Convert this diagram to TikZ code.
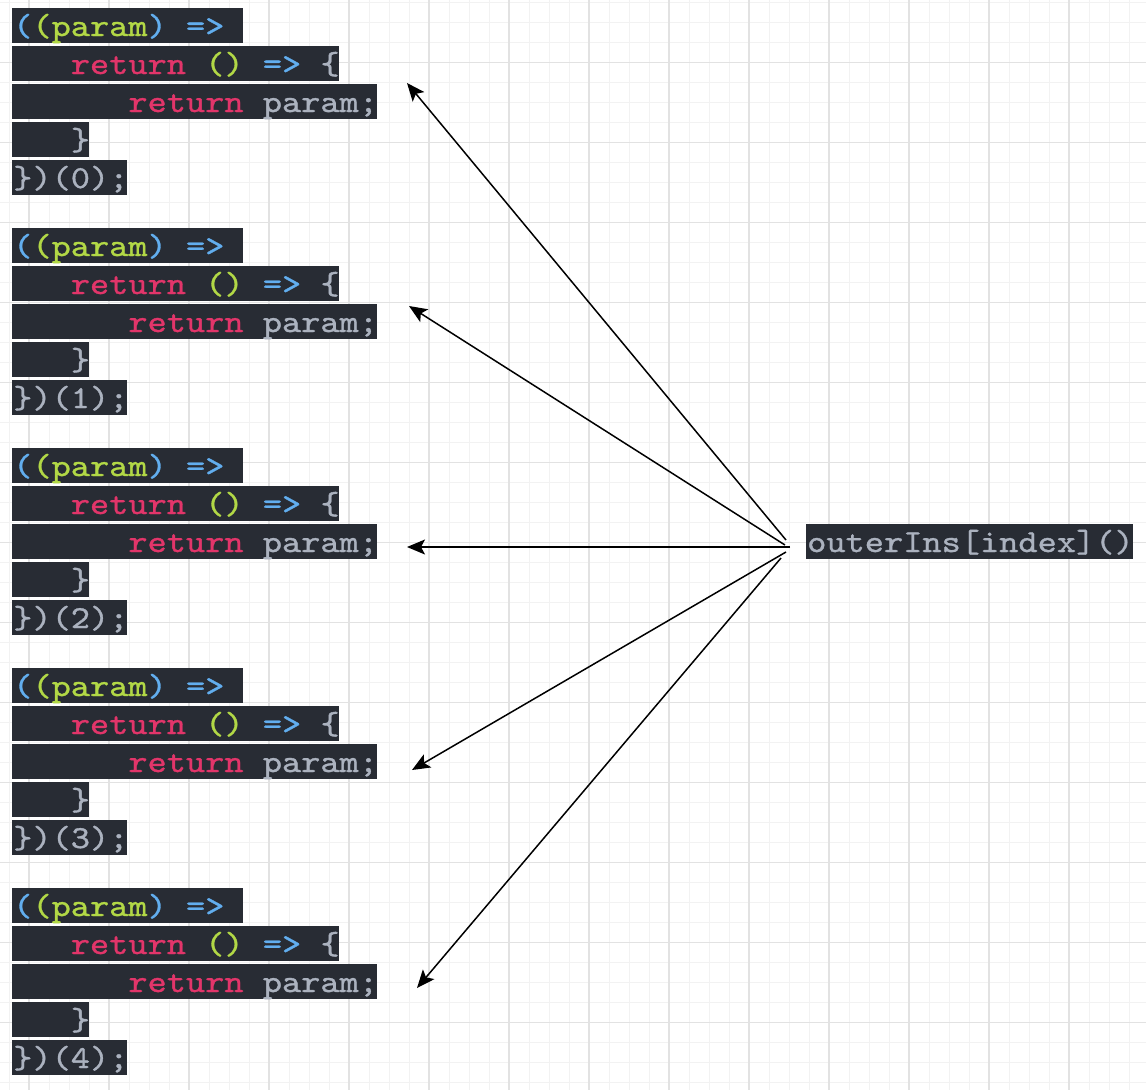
\documentclass[tikz,border=0pt]{standalone}
\usepackage{fontspec}
\usetikzlibrary{arrows.meta}
\newfontfamily\codefont[FakeStretch=1.143,FakeBold=1]{lmmono10-regular.otf}
\definecolor{codebg}{HTML}{282C34}
\definecolor{cblue}{HTML}{62AEEF}
\definecolor{cgreen}{HTML}{B2D846}
\definecolor{cred}{HTML}{E2356A}
\definecolor{cgrey}{HTML}{ABB2BF}
\definecolor{gridminor}{HTML}{F2F2F2}
\definecolor{gridmajor}{HTML}{E2E2E2}
\tikzset{
  codebox/.style={fill=codebg, draw=none, anchor=north west, inner sep=0pt, minimum height=35pt},
  codetxt/.style={anchor=base west, inner sep=0pt, font=\codefont\fontsize{32}{38}\selectfont, text=cgrey},
  ptr/.style={draw=black, line width=1.5pt, -{Stealth[length=18pt,width=15pt,inset=4pt]}},
}
\begin{document}
\begin{tikzpicture}[x=1pt,y=-1pt]
\useasboundingbox (0,0) rectangle (1146,1090);
\fill[white] (0,0) rectangle (1146,1090);
% grid
\foreach \gx in {9,29,...,1145} \draw[gridminor, line width=1pt] (\gx,0) -- (\gx,1090);
\foreach \gy in {2.7,22.7,...,1090} \draw[gridminor, line width=1pt] (0,\gy) -- (1146,\gy);
\foreach \gx in {29,109,...,1145} \draw[gridmajor, line width=1.3pt] (\gx,0) -- (\gx,1090);
\foreach \gy in {62.7,142.7,...,1090} \draw[gridmajor, line width=1.3pt] (0,\gy) -- (1146,\gy);
% code blocks
\foreach \b in {0,...,4} {
  \pgfmathsetmacro\yy{8+220*\b}
  \node[codebox, minimum width=230.4pt] (b\b l1) at (12,\yy) {};
  \node[codetxt] (b\b t1) at (13,{\yy+28}) {{\color{cblue}(}{\color{cgreen}(param}{\color{cblue}) =>}};
  \node[codebox, minimum width=326.4pt] (b\b l2) at (12,{\yy+38}) {};
  \node[codetxt] (b\b t2) at (70.6,{\yy+66}) {{\color{cred}return} {\color{cgreen}()} {\color{cblue}=>} \{};
  \node[codebox, minimum width=364.8pt] (b\b l3) at (12,{\yy+76}) {};
  \node[codetxt] (b\b t3) at (128.2,{\yy+104}) {{\color{cred}return} param;};
  \node[codebox, minimum width=76.8pt] (b\b l4) at (12,{\yy+114}) {};
  \node[codetxt] (b\b t4) at (70.6,{\yy+142}) {\}};
  \node[codebox, minimum width=115.2pt] (b\b l5) at (12,{\yy+152}) {};
  \node[codetxt] (b\b t5) at (13,{\yy+180}) {\})(\b);};
}
% label
\node[codebox, minimum width=326.4pt] (out) at (806,524) {};
\node[codetxt] (outt) at (807,552) {outerIns[index]()};
% connector ends
\coordinate (s1) at (786,540);
\coordinate (s2) at (785,545);
\coordinate (s3) at (790,547);
\coordinate (s4) at (786,552);
\coordinate (s5) at (781,558);
\coordinate (e1) at (407,83);
\coordinate (e2) at (409,306);
\coordinate (e3) at (407,547);
\coordinate (e4) at (412,770);
\coordinate (e5) at (417,988);
\foreach \i in {1,...,5} \draw[ptr] (s\i) -- (e\i);
\end{tikzpicture}
\end{document}
